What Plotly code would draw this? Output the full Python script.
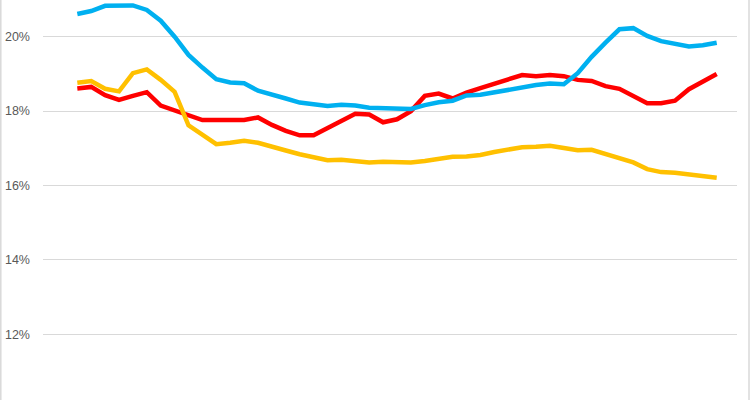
import plotly.graph_objects as go

periods = list(range(47))

blue = [20.61, 20.69, 20.83, 20.84, 20.84, 20.72, 20.43, 20.00, 19.51, 19.17,
        18.86, 18.77, 18.75, 18.55, 18.46, 18.34, 18.23, 18.18, 18.14, 18.17,
        18.15, 18.09, 18.09, 18.09, 18.06, 18.16, 18.24, 18.28, 18.42, 18.44,
        18.51, 18.59, 18.64, 18.70, 18.74, 18.72, 19.02, 19.46, 19.84, 20.20,
        20.23, 20.02, 19.88, 19.82, 19.74, 19.77, 19.84]

red = [18.61, 18.65, 18.43, 18.30, 18.41, 18.51, 18.15, 18.01, 17.90, 17.76,
       17.76, 17.76, 17.76, 17.83, 17.63, 17.47, 17.35, 17.35, 17.55, 17.76,
       17.93, 17.91, 17.70, 17.78, 18.00, 18.41, 18.47, 18.34, 18.50, 18.62,
       18.74, 18.88, 18.97, 18.94, 18.97, 18.94, 18.84, 18.81, 18.67, 18.60,
       18.39, 18.21, 18.21, 18.28, 18.59, 18.79, 19.00]

yellow = [18.76, 18.81, 18.60, 18.53, 19.02, 19.12, 18.84, 18.52, 17.62, 17.36,
          17.11, 17.15, 17.20, 17.15, 17.03, 16.94, 16.84, 16.77, 16.68, 16.69,
          16.65, 16.62, 16.64, 16.62, 16.62, 16.66, 16.71, 16.77, 16.78, 16.82,
          16.90, 16.98, 17.03, 17.04, 17.07, 17.01, 16.95, 16.96, 16.85, 16.74,
          16.62, 16.44, 16.36, 16.34, 16.29, 16.26, 16.21]

tick_vals = [12, 14, 16, 18, 20]
tick_text = ["12%", "14%", "16%", "18%", "20%"]

fig = go.Figure()
for name, vals, col in [("Red", red, "#FF0000"), ("Yellow", yellow, "#FFC000"), ("Blue", blue, "#00B0F0")]:
    fig.add_trace(go.Scatter(x=periods, y=vals, mode="lines", name=name,
                             line=dict(color=col, width=4.5), hoverinfo="skip"))

W, H = 750, 400
ml, mr = 43, 13
pw = W - ml - mr

fig.update_layout(
    width=W, height=H,
    margin=dict(l=ml, r=mr, t=0, b=0),
    paper_bgcolor="white", plot_bgcolor="white",
    showlegend=False,
    font=dict(family="Liberation Sans, Arial, sans-serif", size=12.5, color="#595959"),
    xaxis=dict(range=[-2.468, 47.46], showgrid=False, zeroline=False,
               showticklabels=False, showline=False, ticks=""),
    yaxis=dict(range=[10.234, 20.987], tickvals=tick_vals, ticktext=tick_text,
               showgrid=True, gridcolor="#D9D9D9", gridwidth=1.3, zeroline=False,
               showline=False, ticks="", ticklabelstandoff=12),
)

# chart-area border (left and right edges visible in the crop)
for px in (0.8, 749.0):
    xp = (px - ml) / pw
    fig.add_shape(type="line", xref="paper", yref="paper", x0=xp, x1=xp, y0=0, y1=1,
                  line=dict(color="#D9D9D9", width=1.5), layer="below")

fig.write_html("out.html", config={"displayModeBar": False},
               post_script="document.body.style.margin='0';document.body.style.overflow='hidden';")
